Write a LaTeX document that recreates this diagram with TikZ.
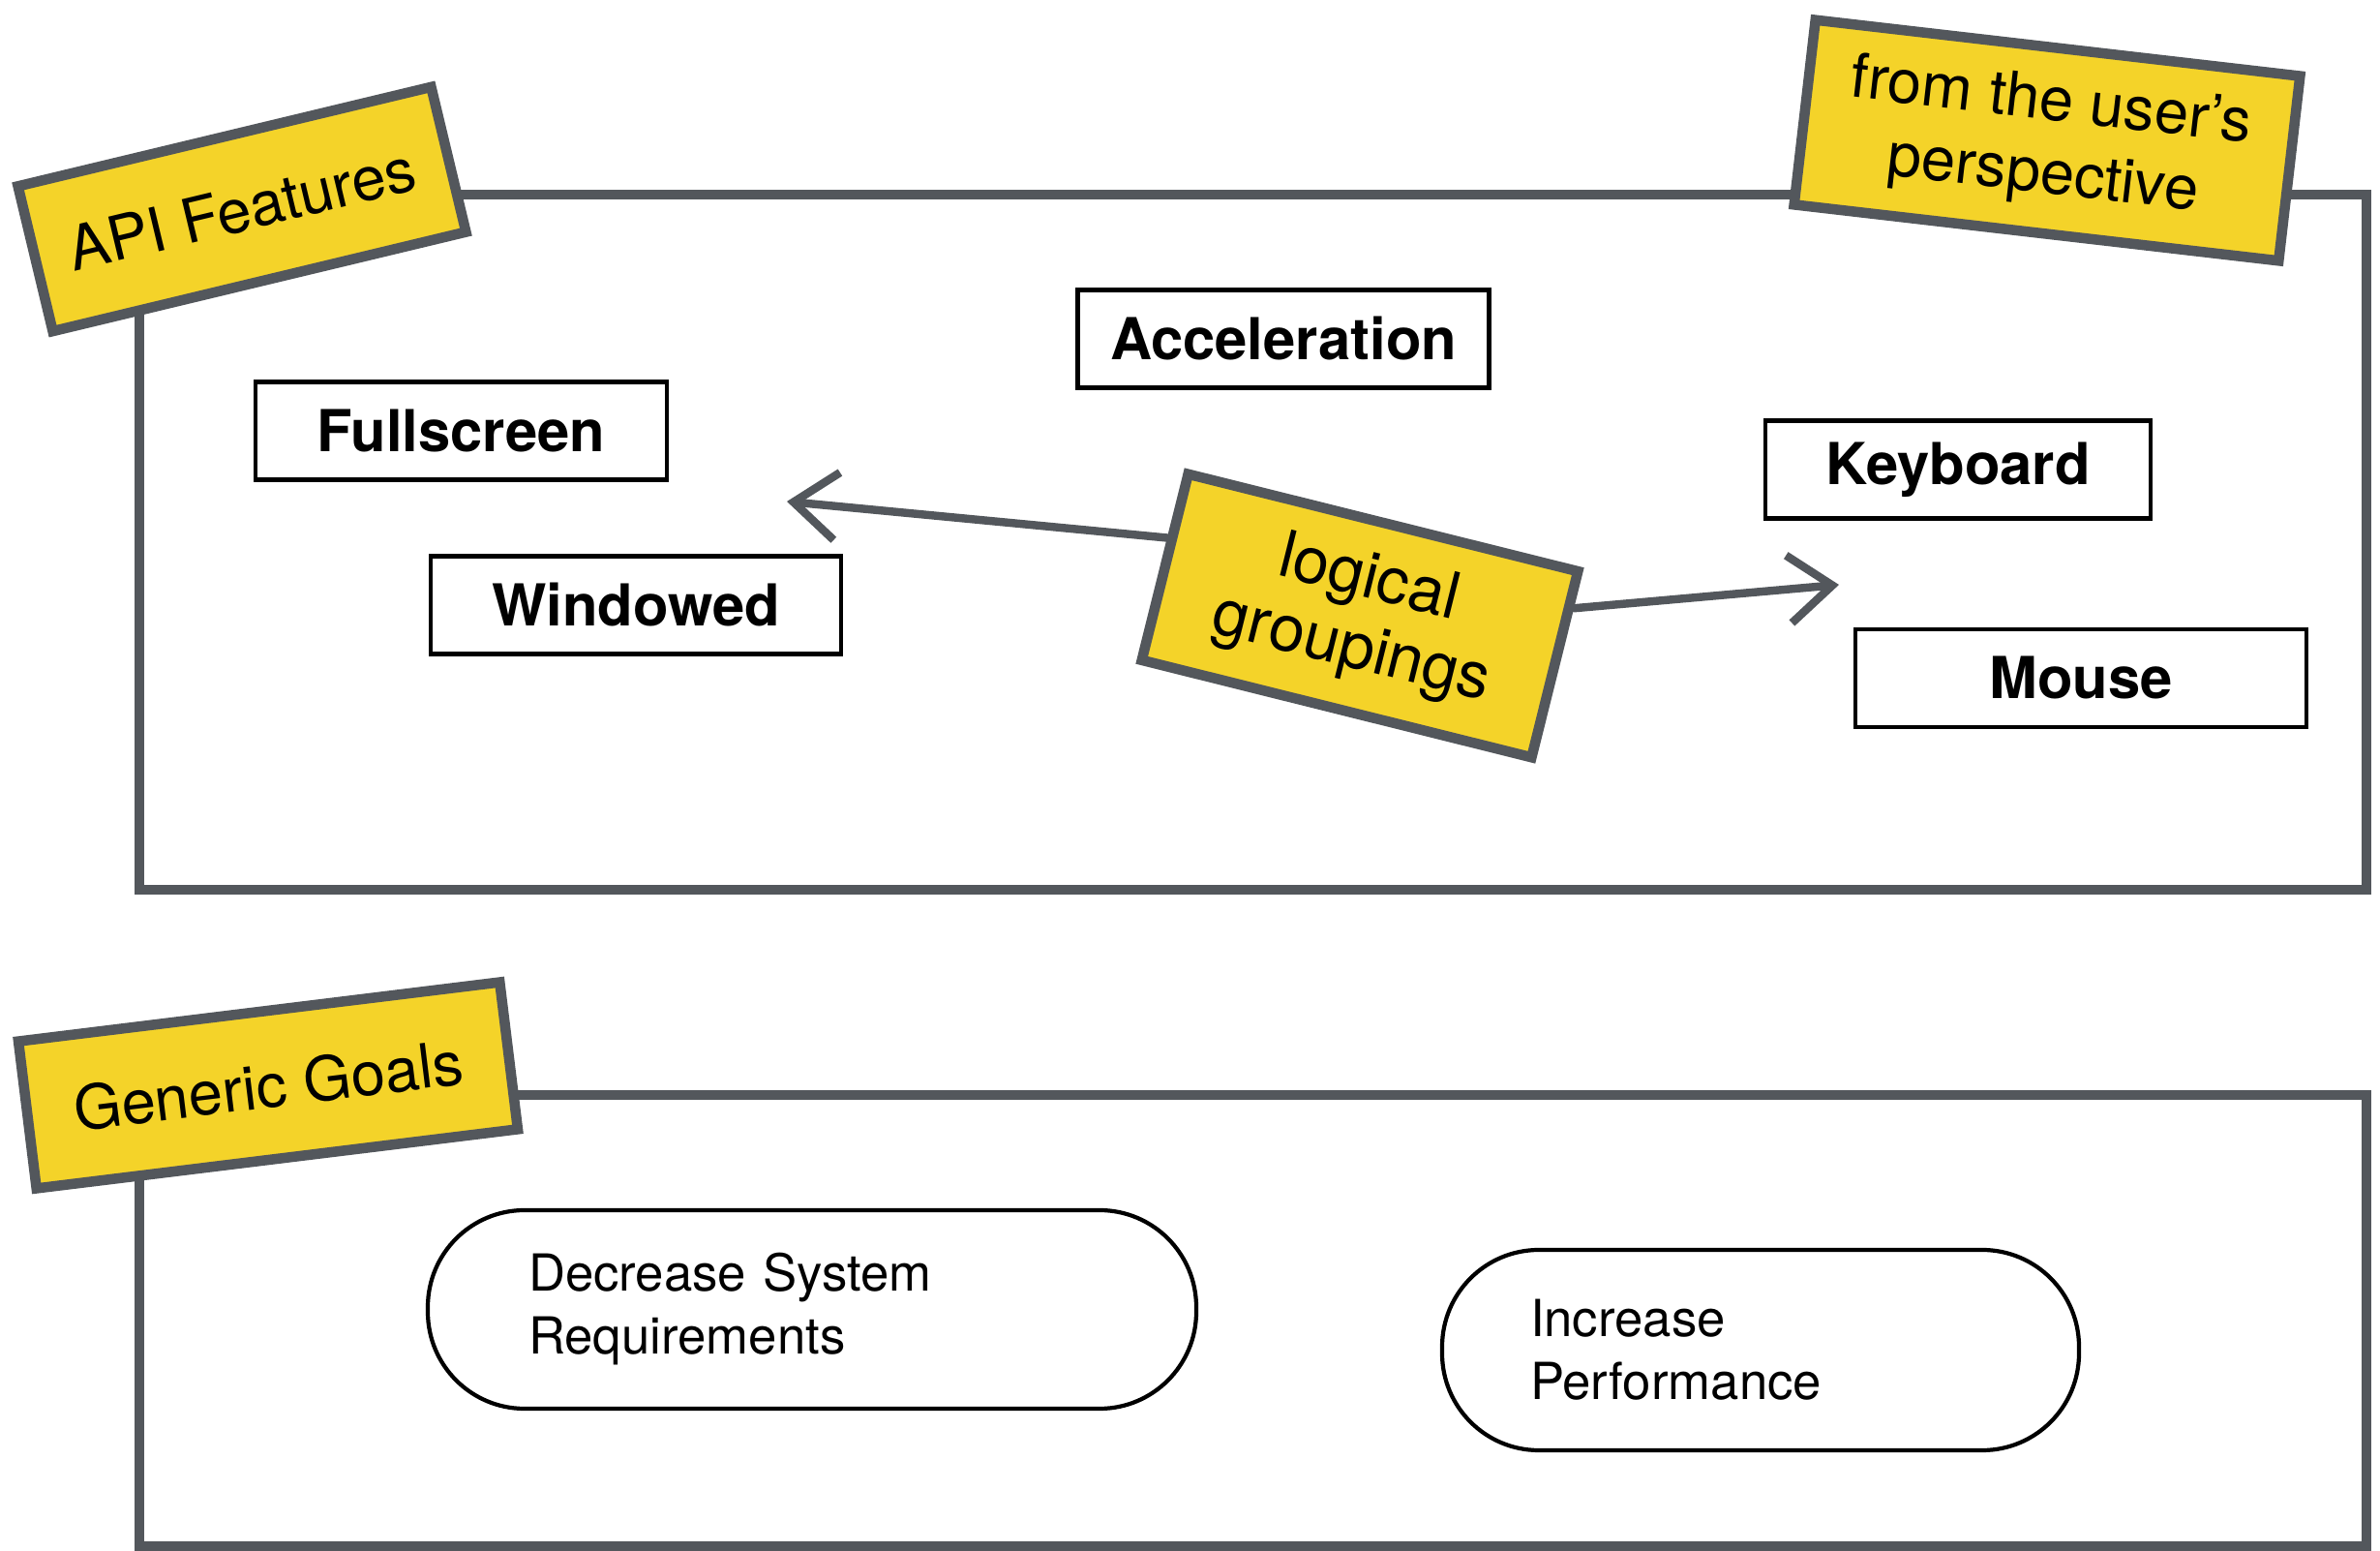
\documentclass[tikz,border=0pt]{standalone}
\usepackage{fontspec}
\setmainfont{TeX Gyre Heros}
\usepackage{tikz}
\usetikzlibrary{arrows.meta, positioning, calc}
\definecolor{tagyellow}{RGB}{244, 211, 41}
\definecolor{brushgray}{RGB}{83, 87, 92}

\begin{document}
\begin{tikzpicture}[
  frame/.style={draw=brushgray, line width=2.8pt},
  tag/.style={draw=brushgray, fill=tagyellow, line width=3pt, align=center, inner sep=0pt, font=\fontsize{18}{21.5}\selectfont},
  feature/.style={draw=black, fill=white, line width=1.2pt, minimum height=1.01cm, inner sep=0pt, font=\fontsize{17}{20}\selectfont\bfseries},
  goal/.style={draw=black, line width=1.2pt, rounded corners=1cm, align=left, inner sep=0pt, font=\fontsize{15}{18.5}\selectfont},
  pointer/.style={draw=brushgray, line width=2.4pt, line cap=round, -{Straight Barb[length=4.5mm, width=7mm]}}
]
  \useasboundingbox (0,0) rectangle (24.59,16.02);

  % Frames
  \draw[frame] (1.44,6.83) rectangle (24.45,14.01);
  \draw[frame] (1.44,0.05) rectangle (24.45,4.71);

  % API features
  \node[feature, minimum width=4.25cm] (accel) at (13.26,12.52) {Acceleration};
  \node[feature, minimum width=4.25cm] (full) at (4.765,11.57) {Fullscreen};
  \node[feature, minimum width=4.24cm] (window) at (6.57,9.77) {Windowed};
  \node[feature, minimum width=3.98cm] (keyb) at (20.23,11.17) {Keyboard};
  \node[feature, minimum width=4.66cm] (mouse) at (21.50,9.015) {Mouse};

  % Generic goals
  \node[goal, minimum width=7.94cm, minimum height=2.05cm, text width=5.86cm] (sysreq) at (8.39,2.495) {Decrease System\\Requirements};
  \node[goal, minimum width=6.58cm, minimum height=2.07cm, text width=4.76cm] (perf) at (18.19,2.075) {Increase\\Performance};

  % Tags
  \node[tag, minimum width=4.39cm, minimum height=1.54cm, rotate=13.5] (api) at (2.50,13.86) {API Features};
  \node[tag, minimum width=5.04cm, minimum height=1.92cm, rotate=-6.6] (user) at (21.15,14.57) {from the user’s\\perspective};
  \node[tag, minimum width=5.01cm, minimum height=1.53cm, rotate=7] (goals) at (2.77,4.81) {Generic Goals};
  \node[tag, minimum width=4.15cm, minimum height=1.98cm, rotate=-14, font=\fontsize{19}{21}\selectfont] (groups) at (14.05,9.66) {logical\\groupings};

  % Grouping pointers
  \coordinate (lefttip) at (8.13,10.84);
  \coordinate (righttip) at (19.00,9.98);
  \draw[pointer] (groups.172) -- (lefttip);
  \draw[pointer] (groups.16) -- (righttip);
\end{tikzpicture}
\end{document}
